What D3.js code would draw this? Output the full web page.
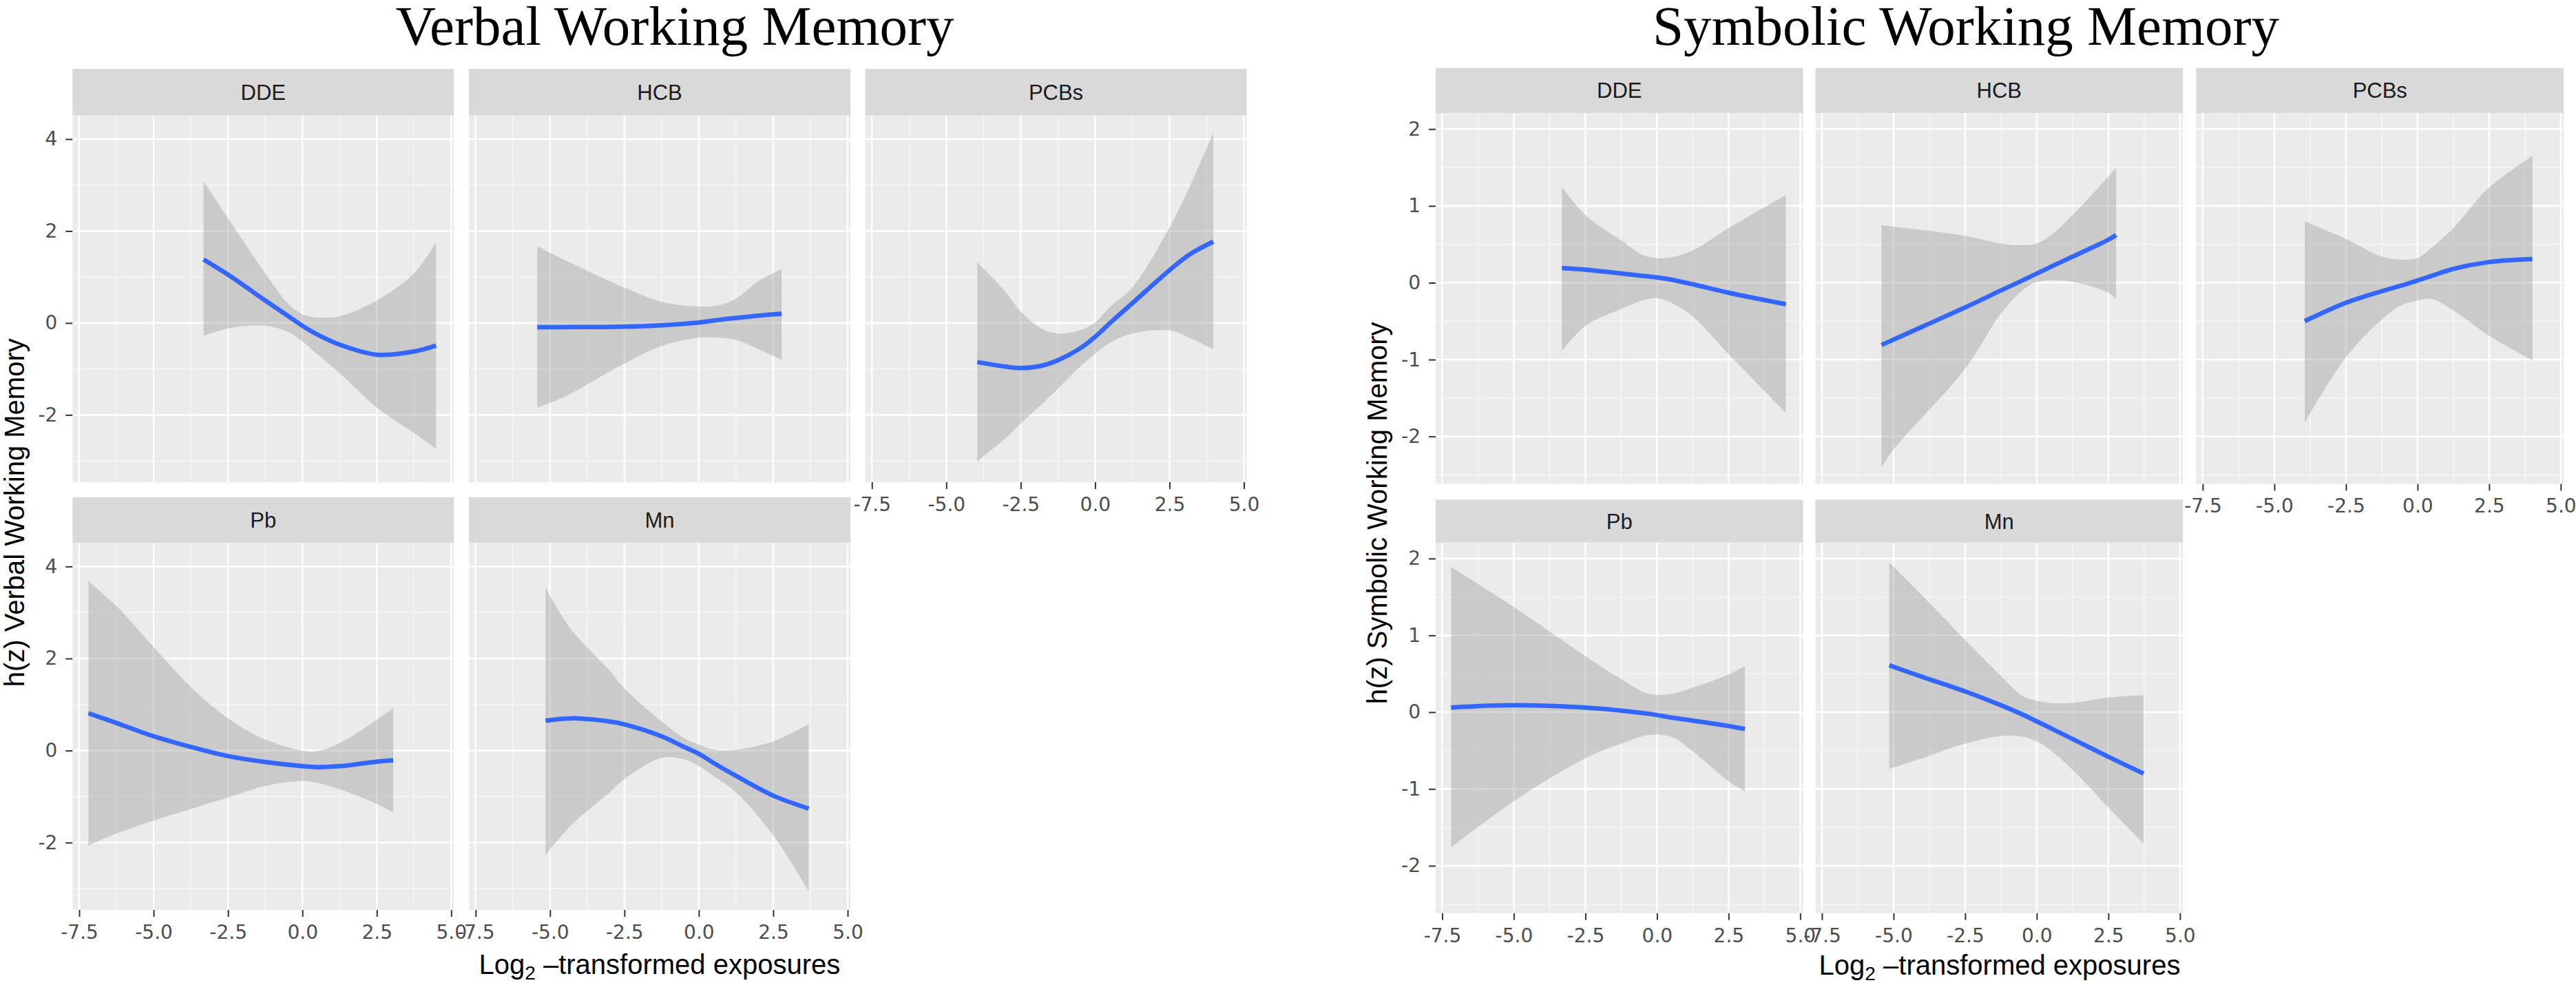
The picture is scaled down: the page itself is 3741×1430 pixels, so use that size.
<!DOCTYPE html>
<html lang="en">
<head>
  <meta charset="UTF-8">
  <title>Verbal and Symbolic Working Memory</title>
  <script src="https://d3js.org/d3.v7.min.js"></script>
  <style>
    body {
      margin: 0;
      background: #fff;
    }
    svg {
      display: block;
    }
    .tick text {
      font-family: "DejaVu Sans", sans-serif;
      font-size: 28px;
      fill: #4d4d4d;
    }
    .tick line {
      stroke: #333;
      stroke-width: 2;
    }
  </style>
</head>
<body>
<svg></svg>
<script>
  // facets, in ggplot facet_wrap order
  const exposures = ["DDE", "HCB", "PCBs", "Pb", "Mn"];
  const xTicks = [-7.5, -5, -2.5, 0, 2.5, 5];
  const xMinor = [-6.25, -3.75, -1.25, 1.25, 3.75];
  const verbalYTicks = [-2, 0, 2, 4];
  const symbolicYTicks = [-2, -1, 0, 1, 2];

  // rows: [exposure, fit, lower, upper]
  const verbalDDE = [
    [-3.32, 1.38, -0.28, 3.08], [-2.5, 1.05, -0.12, 2.28], [-1.25, 0.49, -0.06, 1.08],
    [-0.5, 0.16, -0.19, 0.43], [0, -0.06, -0.40, 0.19], [0.5, -0.25, -0.68, 0.12],
    [1.25, -0.47, -1.09, 0.15], [2.5, -0.69, -1.84, 0.49], [3.75, -0.62, -2.39, 1.08],
    [4.49, -0.49, -2.74, 1.75]
  ];
  const verbalHCB = [
    [-5.43, -0.09, -1.84, 1.67], [-4.5, -0.09, -1.60, 1.37], [-2.5, -0.08, -0.88, 0.77],
    [-1.25, -0.05, -0.50, 0.46], [0, 0.01, -0.32, 0.36], [0.7, 0.07, -0.32, 0.39],
    [1.25, 0.11, -0.37, 0.53], [2.0, 0.16, -0.57, 0.91], [2.78, 0.20, -0.80, 1.17]
  ];
  const verbalPCBs = [
    [-3.96, -0.85, -3.01, 1.32], [-3, -0.95, -2.50, 0.67], [-2.5, -0.98, -2.19, 0.25],
    [-1.8, -0.93, -1.77, -0.12], [-1.25, -0.81, -1.43, -0.23], [-0.5, -0.55, -0.95, -0.16],
    [0, -0.30, -0.67, 0.01], [0.5, 0.0, -0.43, 0.35], [1.25, 0.43, -0.23, 0.77],
    [2.5, 1.15, -0.16, 2.08], [3.2, 1.50, -0.33, 3.0], [3.97, 1.77, -0.57, 4.14]
  ];
  const verbalPb = [
    [-7.19, 0.81, -2.06, 3.68], [-6.25, 0.60, -1.80, 3.14], [-5, 0.31, -1.52, 2.25],
    [-3.75, 0.08, -1.27, 1.38], [-2.5, -0.12, -1.02, 0.70], [-1.25, -0.25, -0.77, 0.24],
    [0, -0.34, -0.66, 0.0], [0.5, -0.36, -0.70, -0.01], [1.25, -0.34, -0.84, 0.16],
    [2.5, -0.24, -1.16, 0.67], [3.05, -0.21, -1.34, 0.92]
  ];
  const verbalMn = [
    [-5.15, 0.65, -2.27, 3.54], [-4.3, 0.70, -1.63, 2.64], [-3, 0.63, -0.91, 1.74],
    [-2.5, 0.57, -0.62, 1.35], [-1.25, 0.31, -0.16, 0.63], [-0.5, 0.08, -0.19, 0.27],
    [0, -0.07, -0.34, 0.13], [0.5, -0.27, -0.55, 0.02], [1.25, -0.55, -0.91, 0.02],
    [2.5, -0.98, -1.84, 0.20], [3.69, -1.26, -3.06, 0.57]
  ];

  const symbolicDDE = [
    [-3.32, 0.19, -0.89, 1.25], [-2.5, 0.17, -0.56, 0.88], [-1.25, 0.12, -0.34, 0.55],
    [-0.5, 0.09, -0.23, 0.36], [0, 0.07, -0.20, 0.32], [0.5, 0.04, -0.26, 0.33],
    [1.25, -0.02, -0.44, 0.42], [2.5, -0.13, -0.93, 0.71], [4.50, -0.28, -1.69, 1.14]
  ];
  const symbolicHCB = [
    [-5.42, -0.81, -2.41, 0.75], [-5, -0.74, -2.17, 0.73], [-2.5, -0.32, -1.12, 0.61],
    [-1.25, -0.10, -0.40, 0.51], [-0.5, 0.03, -0.10, 0.49], [0, 0.12, 0.01, 0.51],
    [0.5, 0.21, 0.03, 0.62], [1.25, 0.34, 0.01, 0.88], [2.5, 0.56, -0.13, 1.38],
    [2.77, 0.62, -0.21, 1.49]
  ];
  const symbolicPCBs = [
    [-3.94, -0.50, -1.82, 0.80], [-2.5, -0.26, -0.97, 0.57], [-1.25, -0.11, -0.48, 0.34],
    [-0.6, -0.04, -0.30, 0.30], [0, 0.03, -0.23, 0.32], [0.5, 0.09, -0.21, 0.46],
    [1.25, 0.18, -0.36, 0.71], [2.5, 0.27, -0.69, 1.24], [4.01, 0.31, -1.01, 1.65]
  ];
  const symbolicPb = [
    [-7.19, 0.06, -1.76, 1.89], [-5, 0.09, -1.16, 1.37], [-2.5, 0.06, -0.60, 0.73],
    [-1.25, 0.02, -0.41, 0.43], [-0.3, -0.02, -0.30, 0.24], [0.5, -0.07, -0.32, 0.24],
    [1.25, -0.11, -0.51, 0.32], [2.5, -0.18, -0.90, 0.49], [3.07, -0.22, -1.03, 0.60]
  ];
  const symbolicMn = [
    [-5.15, 0.61, -0.74, 1.95], [-4, 0.46, -0.60, 1.52], [-2.5, 0.27, -0.41, 0.94],
    [-1.25, 0.09, -0.31, 0.47], [-0.5, -0.03, -0.32, 0.21], [0, -0.12, -0.38, 0.15],
    [0.5, -0.21, -0.50, 0.12], [1.25, -0.35, -0.75, 0.12], [2.5, -0.58, -1.24, 0.19],
    [3.73, -0.80, -1.71, 0.22]
  ];

  const verbalSeries = [verbalDDE, verbalHCB, verbalPCBs, verbalPb, verbalMn];
  const symbolicSeries = [symbolicDDE, symbolicHCB, symbolicPCBs, symbolicPb, symbolicMn];

  const width = 3741, height = 1430;
  const svg = d3.select("svg").attr("width", width).attr("height", height);

  const charts = [
    {
      title: "Verbal Working Memory", titleX: 980, titleY: 65,
      yLabel: "h(z) Verbal Working Memory", yLabelX: 35,
      xLabelY: 1414,
      series: verbalSeries, yTicks: verbalYTicks,
      xDomain: [-7.725, 5.093], yDomain: [-3.463, 4.515],
      lefts: [105.3, 681, 1256.5], panelW: 554,
      rows: [{ strip: 100, top: 167.6, bottom: 700 }, { strip: 722, top: 788, bottom: 1321 }]
    },
    {
      title: "Symbolic Working Memory", titleX: 2855, titleY: 65,
      yLabel: "h(z) Symbolic Working Memory", yLabelX: 2014,
      xLabelY: 1415,
      series: symbolicSeries, yTicks: symbolicYTicks,
      xDomain: [-7.727, 5.1], yDomain: [-2.617, 2.209],
      lefts: [2085, 2636.5, 3189.5], panelW: 533.5,
      rows: [{ strip: 98.7, top: 164, bottom: 702.5 }, { strip: 725.4, top: 787.6, bottom: 1325.7 }]
    }
  ];

  const smooth = d3.curveCatmullRom.alpha(0.5);

  charts.forEach(chart => {
    const root = svg.append("g");

    exposures.forEach((name, i) => {
      const col = i % 3, row = Math.floor(i / 3);
      const r = chart.rows[row];
      const left = chart.lefts[col];
      const x = d3.scaleLinear().domain(chart.xDomain).range([left, left + chart.panelW]);
      const y = d3.scaleLinear().domain(chart.yDomain).range([r.bottom, r.top]);
      const g = root.append("g");

      // panel background
      g.append("rect")
        .attr("x", left).attr("y", r.top)
        .attr("width", chart.panelW).attr("height", r.bottom - r.top)
        .attr("fill", "#ebebeb");

      // minor grid
      const step = chart.yTicks[1] - chart.yTicks[0];
      const yMinor = d3.pairs(chart.yTicks).map(([a, b]) => (a + b) / 2)
        .concat([chart.yTicks[0] - step / 2, chart.yTicks[chart.yTicks.length - 1] + step / 2])
        .filter(v => v > chart.yDomain[0] && v < chart.yDomain[1]);
      g.selectAll(".ymin").data(yMinor).join("line")
        .attr("x1", left).attr("x2", left + chart.panelW)
        .attr("y1", d => y(d)).attr("y2", d => y(d))
        .attr("stroke", "#f7f7f7").attr("stroke-width", 1.4);
      g.selectAll(".xmin").data(xMinor).join("line")
        .attr("x1", d => x(d)).attr("x2", d => x(d))
        .attr("y1", r.top).attr("y2", r.bottom)
        .attr("stroke", "#f7f7f7").attr("stroke-width", 1.4);

      // major grid
      g.selectAll(".ymaj").data(chart.yTicks).join("line")
        .attr("x1", left).attr("x2", left + chart.panelW)
        .attr("y1", d => y(d)).attr("y2", d => y(d))
        .attr("stroke", "#fff").attr("stroke-width", 2.6);
      g.selectAll(".xmaj").data(xTicks).join("line")
        .attr("x1", d => x(d)).attr("x2", d => x(d))
        .attr("y1", r.top).attr("y2", r.bottom)
        .attr("stroke", "#fff").attr("stroke-width", 2.6);

      const data = chart.series[i];

      // confidence band
      const area = d3.area()
        .x(d => x(d[0]))
        .y0(d => y(d[2]))
        .y1(d => y(d[3]))
        .curve(smooth);
      g.append("path")
        .attr("d", area(data))
        .attr("fill", "#999")
        .attr("fill-opacity", 0.4);

      // fitted curve
      const line = d3.line()
        .x(d => x(d[0]))
        .y(d => y(d[1]))
        .curve(smooth);
      g.append("path")
        .attr("d", line(data))
        .attr("fill", "none")
        .attr("stroke", "#3366ff")
        .attr("stroke-width", 6.5);

      // strip
      g.append("rect")
        .attr("x", left).attr("y", r.strip)
        .attr("width", chart.panelW).attr("height", r.top - r.strip)
        .attr("fill", "#d9d9d9");
      g.append("text")
        .attr("x", left + chart.panelW / 2)
        .attr("y", (r.strip + r.top) / 2 + 11)
        .attr("text-anchor", "middle")
        .attr("font-family", "'Liberation Sans', Arial, sans-serif")
        .attr("font-size", 31)
        .attr("fill", "#1a1a1a")
        .text(name);

      // y axis on the first column
      if (col === 0) {
        g.append("g")
          .attr("transform", `translate(${left},0)`)
          .call(d3.axisLeft(y).tickValues(chart.yTicks).tickSize(10).tickPadding(12)
            .tickFormat(d => String(d)))
          .call(a => a.select(".domain").remove());
      }
      // x axis where no panel sits below
      if (row === 1 || col === 2) {
        g.append("g")
          .attr("transform", `translate(0,${r.bottom})`)
          .call(d3.axisBottom(x).tickValues(xTicks).tickSize(10).tickPadding(12)
            .tickFormat(d => d.toFixed(1)))
          .call(a => a.select(".domain").remove());
      }
    });

    // main title
    root.append("text")
      .attr("x", chart.titleX).attr("y", chart.titleY)
      .attr("text-anchor", "middle")
      .attr("font-family", "'Liberation Serif', 'Times New Roman', serif")
      .attr("font-size", 81)
      .attr("fill", "#000")
      .text(chart.title);

    // x axis title with subscript
    const xMid = (chart.lefts[0] + chart.lefts[2] + chart.panelW) / 2;
    const xt = root.append("text")
      .attr("x", xMid).attr("y", chart.xLabelY)
      .attr("text-anchor", "middle")
      .attr("font-family", "'Liberation Sans', Arial, sans-serif")
      .attr("font-size", 40)
      .attr("fill", "#000");
    xt.append("tspan").text("Log");
    xt.append("tspan").attr("font-size", 28).attr("dy", 8).text("2");
    xt.append("tspan").attr("dy", -8).text(" \u2013transformed exposures");

    // y axis title
    const yMid = (chart.rows[0].top + chart.rows[1].bottom) / 2;
    root.append("text")
      .attr("transform", `translate(${chart.yLabelX},${yMid}) rotate(-90)`)
      .attr("text-anchor", "middle")
      .attr("font-family", "'Liberation Sans', Arial, sans-serif")
      .attr("font-size", 40)
      .attr("fill", "#000")
      .text(chart.yLabel);
  });
</script>
</body>
</html>
